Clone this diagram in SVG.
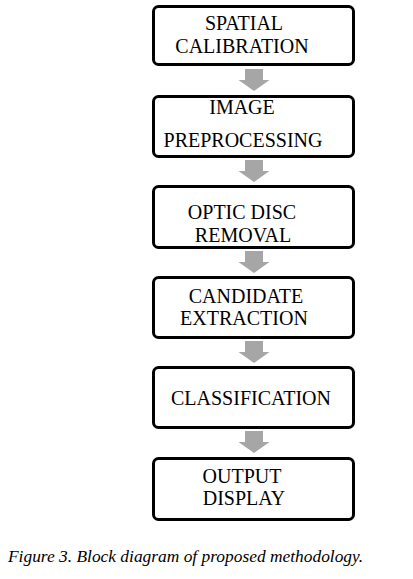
<svg xmlns="http://www.w3.org/2000/svg" width="413" height="579" viewBox="0 0 413 579">
<style>
.box{fill:#fff;stroke:#000;stroke-width:3}
.t{font-family:"Liberation Serif","DejaVu Serif","Times New Roman",serif;font-size:20px;fill:#000;text-anchor:middle}
.arr{fill:#a6a6a6}
.cap{font-family:"Liberation Serif","DejaVu Serif","Times New Roman",serif;font-size:17.4px;font-style:italic;fill:#000}
</style>
<defs>
<path id="a" d="M-9,0 H9 V11 H15.5 L0,22 L-15.5,11 H-9 Z"/>
</defs>
<rect width="413" height="579" fill="#fff"/>
<g id="connectors">
<use href="#a" class="arr" x="254" y="69"/>
<use href="#a" class="arr" x="254" y="160"/>
<use href="#a" class="arr" x="254" y="251"/>
<use href="#a" class="arr" x="254" y="341"/>
<use href="#a" class="arr" x="254" y="431"/>
</g>
<g id="n1"><rect class="box" x="153.5" y="6.5" width="200" height="58" rx="5"/>
<text class="t" x="244" y="30">SPATIAL</text><text class="t" x="242" y="53">CALIBRATION</text></g>
<g id="n2"><rect class="box" x="153.5" y="96.5" width="200" height="60" rx="5"/>
<text class="t" x="242" y="114">IMAGE</text><text class="t" x="243" y="147">PREPROCESSING</text></g>
<g id="n3"><rect class="box" x="153.5" y="186.5" width="200" height="61" rx="5"/>
<text class="t" x="242" y="219">OPTIC DISC</text><text class="t" x="243" y="242">REMOVAL</text></g>
<g id="n4"><rect class="box" x="153.5" y="277.5" width="200" height="60" rx="5"/>
<text class="t" x="246" y="303">CANDIDATE</text><text class="t" x="244" y="325">EXTRACTION</text></g>
<g id="n5"><rect class="box" x="153.5" y="367.5" width="200" height="60" rx="5"/>
<text class="t" x="251" y="405">CLASSIFICATION</text></g>
<g id="n6"><rect class="box" x="153.5" y="458.5" width="200" height="61" rx="5"/>
<text class="t" x="242" y="483">OUTPUT</text><text class="t" x="244" y="505">DISPLAY</text></g>
<text class="cap" x="8" y="562">Figure 3. Block diagram of proposed methodology.</text>
</svg>
